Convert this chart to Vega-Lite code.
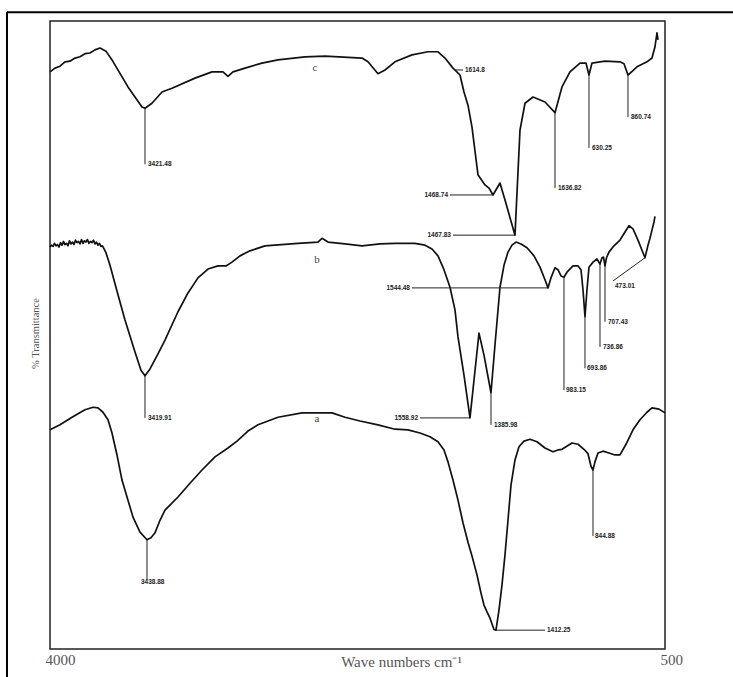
{
  "$schema": "https://vega.github.io/schema/vega-lite/v6.json",
  "autosize": {"type": "none"},
  "width": 615,
  "height": 628,
  "padding": {"left": 50, "top": 21, "right": 68, "bottom": 28},
  "background": "white",
  "config": {"view": {"stroke": "#222", "strokeWidth": 1.5}},
  "datasets": {
    "spectra": [
      {"s":"c","x":4000.0,"y":91.9},{"s":"c","x":3971.5,"y":92.5},{"s":"c","x":3943.1,"y":92.8},{"s":"c","x":3914.6,"y":93.5},{"s":"c","x":3886.2,"y":93.6},{"s":"c","x":3857.8,"y":94.1},{"s":"c","x":3829.3,"y":94.3},{"s":"c","x":3800.9,"y":94.8},{"s":"c","x":3772.4,"y":94.9},{"s":"c","x":3744.0,"y":95.4},{"s":"c","x":3715.5,"y":95.7},{"s":"c","x":3681.4,"y":95.2},{"s":"c","x":3647.2,"y":93.8},{"s":"c","x":3556.2,"y":89.5},{"s":"c","x":3476.5,"y":86.3},{"s":"c","x":3459.4,"y":86.1},{"s":"c","x":3419.6,"y":86.9},{"s":"c","x":3362.7,"y":88.7},{"s":"c","x":3305.7,"y":89.3},{"s":"c","x":3174.9,"y":90.9},{"s":"c","x":3078.1,"y":91.9},{"s":"c","x":3015.5,"y":91.9},{"s":"c","x":2987.1,"y":91.2},{"s":"c","x":2958.6,"y":91.9},{"s":"c","x":2890.3,"y":92.5},{"s":"c","x":2793.6,"y":93.3},{"s":"c","x":2702.5,"y":93.8},{"s":"c","x":2548.8,"y":94.3},{"s":"c","x":2435.0,"y":94.4},{"s":"c","x":2224.5,"y":94.1},{"s":"c","x":2190.3,"y":93.5},{"s":"c","x":2133.4,"y":91.6},{"s":"c","x":2093.6,"y":92.2},{"s":"c","x":2036.7,"y":93.5},{"s":"c","x":1939.9,"y":94.6},{"s":"c","x":1848.9,"y":95.1},{"s":"c","x":1791.9,"y":95.1},{"s":"c","x":1752.1,"y":94.1},{"s":"c","x":1706.6,"y":92.5},{"s":"c","x":1666.7,"y":91.4},{"s":"c","x":1644.0,"y":88.7},{"s":"c","x":1621.2,"y":86.6},{"s":"c","x":1598.4,"y":83.1},{"s":"c","x":1564.3,"y":75.5},{"s":"c","x":1524.5,"y":73.9},{"s":"c","x":1501.7,"y":73.4},{"s":"c","x":1478.9,"y":72.3},{"s":"c","x":1439.1,"y":74.2},{"s":"c","x":1410.6,"y":71.5},{"s":"c","x":1353.7,"y":65.9},{"s":"c","x":1325.3,"y":82.6},{"s":"c","x":1296.8,"y":86.9},{"s":"c","x":1251.3,"y":87.9},{"s":"c","x":1183.0,"y":87.1},{"s":"c","x":1126.1,"y":85.4},{"s":"c","x":1086.3,"y":89.5},{"s":"c","x":1040.7,"y":91.9},{"s":"c","x":983.8,"y":93.3},{"s":"c","x":949.7,"y":93.3},{"s":"c","x":932.6,"y":91.4},{"s":"c","x":915.5,"y":93.3},{"s":"c","x":841.5,"y":93.6},{"s":"c","x":756.2,"y":93.5},{"s":"c","x":733.4,"y":93.2},{"s":"c","x":710.6,"y":91.4},{"s":"c","x":659.4,"y":92.7},{"s":"c","x":602.5,"y":93.5},{"s":"c","x":574.1,"y":94.1},{"s":"c","x":557.0,"y":95.9},{"s":"c","x":545.6,"y":98.1},{"s":"c","x":539.9,"y":97.0},
      {"s":"b","x":4000.0,"y":64.0},{"s":"b","x":3991.5,"y":64.3},{"s":"b","x":3982.9,"y":64.1},{"s":"b","x":3974.4,"y":64.6},{"s":"b","x":3965.9,"y":64.2},{"s":"b","x":3957.4,"y":64.4},{"s":"b","x":3948.8,"y":64.0},{"s":"b","x":3940.3,"y":64.7},{"s":"b","x":3931.8,"y":64.3},{"s":"b","x":3923.2,"y":64.9},{"s":"b","x":3914.7,"y":64.4},{"s":"b","x":3906.2,"y":64.6},{"s":"b","x":3897.6,"y":64.2},{"s":"b","x":3889.1,"y":65.0},{"s":"b","x":3880.6,"y":64.5},{"s":"b","x":3872.0,"y":64.8},{"s":"b","x":3863.5,"y":64.4},{"s":"b","x":3855.0,"y":65.1},{"s":"b","x":3846.4,"y":64.7},{"s":"b","x":3837.9,"y":64.9},{"s":"b","x":3829.4,"y":64.5},{"s":"b","x":3820.8,"y":65.2},{"s":"b","x":3812.3,"y":64.6},{"s":"b","x":3803.8,"y":65.0},{"s":"b","x":3795.2,"y":64.8},{"s":"b","x":3786.7,"y":65.2},{"s":"b","x":3778.2,"y":64.6},{"s":"b","x":3769.6,"y":64.9},{"s":"b","x":3761.1,"y":64.7},{"s":"b","x":3752.6,"y":65.1},{"s":"b","x":3744.0,"y":64.5},{"s":"b","x":3735.5,"y":64.8},{"s":"b","x":3727.0,"y":64.3},{"s":"b","x":3718.4,"y":64.6},{"s":"b","x":3709.9,"y":64.1},{"s":"b","x":3701.4,"y":64.2},{"s":"b","x":3681.4,"y":63.1},{"s":"b","x":3658.6,"y":61.1},{"s":"b","x":3613.1,"y":56.4},{"s":"b","x":3573.2,"y":52.4},{"s":"b","x":3516.3,"y":47.3},{"s":"b","x":3482.2,"y":44.4},{"s":"b","x":3459.4,"y":43.5},{"s":"b","x":3430.9,"y":44.6},{"s":"b","x":3385.4,"y":47.0},{"s":"b","x":3345.6,"y":49.2},{"s":"b","x":3271.6,"y":53.7},{"s":"b","x":3214.7,"y":56.7},{"s":"b","x":3157.8,"y":59.1},{"s":"b","x":3100.9,"y":60.5},{"s":"b","x":3044.0,"y":61.0},{"s":"b","x":2998.4,"y":61.0},{"s":"b","x":2964.3,"y":61.6},{"s":"b","x":2918.8,"y":62.6},{"s":"b","x":2861.8,"y":63.4},{"s":"b","x":2776.5,"y":64.2},{"s":"b","x":2588.7,"y":64.6},{"s":"b","x":2474.9,"y":64.8},{"s":"b","x":2452.1,"y":65.4},{"s":"b","x":2418.0,"y":64.8},{"s":"b","x":2321.2,"y":64.5},{"s":"b","x":2224.5,"y":64.2},{"s":"b","x":2122.0,"y":64.5},{"s":"b","x":2036.7,"y":64.6},{"s":"b","x":1922.8,"y":64.6},{"s":"b","x":1865.9,"y":64.3},{"s":"b","x":1826.1,"y":63.7},{"s":"b","x":1791.9,"y":62.6},{"s":"b","x":1757.8,"y":60.4},{"s":"b","x":1723.6,"y":57.6},{"s":"b","x":1695.2,"y":54.0},{"s":"b","x":1678.1,"y":49.7},{"s":"b","x":1644.0,"y":43.6},{"s":"b","x":1609.8,"y":36.8},{"s":"b","x":1587.1,"y":42.8},{"s":"b","x":1558.6,"y":50.3},{"s":"b","x":1530.2,"y":46.8},{"s":"b","x":1490.3,"y":40.8},{"s":"b","x":1467.6,"y":48.4},{"s":"b","x":1439.1,"y":57.6},{"s":"b","x":1416.3,"y":61.1},{"s":"b","x":1393.6,"y":63.2},{"s":"b","x":1370.8,"y":64.3},{"s":"b","x":1348.0,"y":64.8},{"s":"b","x":1319.6,"y":64.5},{"s":"b","x":1285.4,"y":63.9},{"s":"b","x":1245.6,"y":62.6},{"s":"b","x":1211.5,"y":60.8},{"s":"b","x":1183.0,"y":58.8},{"s":"b","x":1165.9,"y":57.5},{"s":"b","x":1148.9,"y":59.1},{"s":"b","x":1126.1,"y":60.7},{"s":"b","x":1109.0,"y":60.4},{"s":"b","x":1091.9,"y":59.4},{"s":"b","x":1074.9,"y":59.2},{"s":"b","x":1057.8,"y":60.0},{"s":"b","x":1023.7,"y":61.0},{"s":"b","x":995.2,"y":61.0},{"s":"b","x":978.1,"y":60.4},{"s":"b","x":966.7,"y":57.2},{"s":"b","x":955.4,"y":52.9},{"s":"b","x":944.0,"y":57.2},{"s":"b","x":932.6,"y":60.8},{"s":"b","x":909.8,"y":61.6},{"s":"b","x":887.1,"y":62.1},{"s":"b","x":870.0,"y":61.3},{"s":"b","x":858.6,"y":62.3},{"s":"b","x":850.1,"y":62.4},{"s":"b","x":841.5,"y":61.0},{"s":"b","x":833.0,"y":62.3},{"s":"b","x":818.8,"y":63.2},{"s":"b","x":790.3,"y":64.2},{"s":"b","x":756.2,"y":65.1},{"s":"b","x":727.7,"y":66.4},{"s":"b","x":705.0,"y":67.4},{"s":"b","x":682.2,"y":66.9},{"s":"b","x":653.7,"y":65.1},{"s":"b","x":631.0,"y":63.5},{"s":"b","x":613.9,"y":62.3},{"s":"b","x":596.8,"y":64.3},{"s":"b","x":585.4,"y":65.4},{"s":"b","x":574.1,"y":66.7},{"s":"b","x":562.7,"y":68.0},{"s":"b","x":557.0,"y":68.9},
      {"s":"a","x":4000.0,"y":34.9},{"s":"a","x":3943.1,"y":35.7},{"s":"a","x":3874.8,"y":36.9},{"s":"a","x":3800.9,"y":38.1},{"s":"a","x":3755.3,"y":38.5},{"s":"a","x":3726.9,"y":38.4},{"s":"a","x":3698.4,"y":37.7},{"s":"a","x":3670.0,"y":36.5},{"s":"a","x":3647.2,"y":34.4},{"s":"a","x":3618.8,"y":30.9},{"s":"a","x":3590.3,"y":26.9},{"s":"a","x":3556.2,"y":23.7},{"s":"a","x":3527.7,"y":21.0},{"s":"a","x":3487.9,"y":18.6},{"s":"a","x":3448.0,"y":17.4},{"s":"a","x":3425.3,"y":17.7},{"s":"a","x":3402.5,"y":18.5},{"s":"a","x":3374.0,"y":20.5},{"s":"a","x":3345.6,"y":22.1},{"s":"a","x":3271.6,"y":24.2},{"s":"a","x":3203.3,"y":26.4},{"s":"a","x":3135.0,"y":28.5},{"s":"a","x":3061.0,"y":30.6},{"s":"a","x":2987.1,"y":32.0},{"s":"a","x":2935.8,"y":33.1},{"s":"a","x":2873.2,"y":34.7},{"s":"a","x":2816.3,"y":35.7},{"s":"a","x":2702.5,"y":36.9},{"s":"a","x":2565.9,"y":37.6},{"s":"a","x":2395.2,"y":37.6},{"s":"a","x":2321.2,"y":36.9},{"s":"a","x":2235.8,"y":36.3},{"s":"a","x":2133.4,"y":35.7},{"s":"a","x":2036.7,"y":35.0},{"s":"a","x":1962.7,"y":34.9},{"s":"a","x":1894.4,"y":34.4},{"s":"a","x":1837.5,"y":33.8},{"s":"a","x":1791.9,"y":33.0},{"s":"a","x":1757.8,"y":31.7},{"s":"a","x":1735.0,"y":29.8},{"s":"a","x":1706.6,"y":26.9},{"s":"a","x":1678.1,"y":23.7},{"s":"a","x":1649.7,"y":20.1},{"s":"a","x":1621.2,"y":17.0},{"s":"a","x":1598.4,"y":14.8},{"s":"a","x":1570.0,"y":11.8},{"s":"a","x":1547.2,"y":8.9},{"s":"a","x":1530.2,"y":7.0},{"s":"a","x":1513.1,"y":5.9},{"s":"a","x":1496.0,"y":4.9},{"s":"a","x":1473.2,"y":3.1},{"s":"a","x":1461.9,"y":3.0},{"s":"a","x":1444.8,"y":6.2},{"s":"a","x":1427.7,"y":10.2},{"s":"a","x":1410.6,"y":15.0},{"s":"a","x":1393.6,"y":20.5},{"s":"a","x":1376.5,"y":26.1},{"s":"a","x":1353.7,"y":30.1},{"s":"a","x":1331.0,"y":32.2},{"s":"a","x":1302.5,"y":33.1},{"s":"a","x":1268.4,"y":33.4},{"s":"a","x":1228.5,"y":33.0},{"s":"a","x":1183.0,"y":32.0},{"s":"a","x":1137.5,"y":31.4},{"s":"a","x":1109.0,"y":31.7},{"s":"a","x":1086.3,"y":31.8},{"s":"a","x":1029.3,"y":32.8},{"s":"a","x":995.2,"y":32.6},{"s":"a","x":961.1,"y":31.8},{"s":"a","x":938.3,"y":31.1},{"s":"a","x":921.2,"y":29.1},{"s":"a","x":909.8,"y":28.5},{"s":"a","x":898.5,"y":29.8},{"s":"a","x":881.4,"y":31.2},{"s":"a","x":852.9,"y":31.5},{"s":"a","x":818.8,"y":31.2},{"s":"a","x":784.6,"y":30.9},{"s":"a","x":756.2,"y":30.9},{"s":"a","x":722.0,"y":32.6},{"s":"a","x":682.2,"y":34.9},{"s":"a","x":642.4,"y":36.5},{"s":"a","x":602.5,"y":37.7},{"s":"a","x":574.1,"y":38.4},{"s":"a","x":534.2,"y":38.2},{"s":"a","x":500.1,"y":37.6}
    ],
    "leaders": [
      {"x":3459.4,"x2":3459.4,"y":86.1,"y2":77.2},
      {"x":1695.2,"x2":1649.7,"y":92.2,"y2":92.2},
      {"x":1723.6,"x2":1478.9,"y":72.3,"y2":72.3},
      {"x":1706.6,"x2":1353.7,"y":65.9,"y2":65.9},
      {"x":1126.1,"x2":1126.1,"y":85.4,"y2":73.4},
      {"x":932.6,"x2":932.6,"y":91.4,"y2":79.8},
      {"x":710.6,"x2":710.6,"y":91.4,"y2":84.7},
      {"x":3459.4,"x2":3459.4,"y":43.5,"y2":36.8},
      {"x":1939.9,"x2":1165.9,"y":57.5,"y2":57.5},
      {"x":1894.4,"x2":1609.8,"y":36.8,"y2":36.8},
      {"x":1490.3,"x2":1490.3,"y":40.8,"y2":35.7},
      {"x":1074.9,"x2":1074.9,"y":59.2,"y2":41.2},
      {"x":955.4,"x2":955.4,"y":52.9,"y2":44.7},
      {"x":870.0,"x2":870.0,"y":61.5,"y2":48.1},
      {"x":841.5,"x2":841.5,"y":61.1,"y2":52.1},
      {"x":613.9,"x2":796.0,"y":62.3,"y2":58.6},
      {"x":3448.0,"x2":3448.0,"y":17.4,"y2":11.0},
      {"x":1461.9,"x2":1183.0,"y":3.0,"y2":3.0},
      {"x":909.8,"x2":909.8,"y":28.5,"y2":18.0}
    ],
    "peaks": [
      {"text":"3421.48","x":3448.0,"y":77.2,"side":"l"},
      {"text":"1614.8","x":1644.0,"y":92.2,"side":"l"},
      {"text":"1468.74","x":1729.3,"y":72.3,"side":"r"},
      {"text":"1467.83","x":1712.3,"y":65.9,"side":"r"},
      {"text":"1636.82","x":1114.8,"y":73.4,"side":"l"},
      {"text":"630.25","x":921.2,"y":79.8,"side":"l"},
      {"text":"860.74","x":699.3,"y":84.7,"side":"l"},
      {"text":"3419.91","x":3448.0,"y":36.8,"side":"l"},
      {"text":"1544.48","x":1945.6,"y":57.5,"side":"r"},
      {"text":"1558.92","x":1900.0,"y":36.8,"side":"r"},
      {"text":"1385.98","x":1478.9,"y":35.7,"side":"l"},
      {"text":"983.15","x":1069.2,"y":41.2,"side":"l"},
      {"text":"693.86","x":949.7,"y":44.7,"side":"l"},
      {"text":"736.86","x":858.6,"y":48.1,"side":"l"},
      {"text":"707.43","x":830.2,"y":52.1,"side":"l"},
      {"text":"473.01","x":790.3,"y":57.8,"side":"l"},
      {"text":"3438.88","x":3487.9,"y":10.6,"side":"l"},
      {"text":"1412.25","x":1177.3,"y":3.0,"side":"l"},
      {"text":"844.88","x":904.1,"y":18.0,"side":"l"}
    ],
    "names": [
      {"text":"c","x":2491.9,"y":92.5},
      {"text":"b","x":2480.6,"y":61.9},
      {"text":"a","x":2480.6,"y":36.6}
    ],
    "frame": [
      {"x":4244.8,"x2":4244.8,"y":101.4,"y2":-8},
      {"x":4244.8,"x2":60,"y":101.4,"y2":101.4}
    ]
  },
  "encoding": {
    "x": {
      "field": "x", "type": "quantitative",
      "scale": {"domain": [500, 4000], "reverse": true},
      "axis": {
        "values": [4000, 500], "format": "d", "ticks": false, "domain": false, "grid": false,
        "labelFont": "Liberation Serif", "labelFontSize": 15, "labelColor": "#555",
        "labelAlign": "left", "labelOffset": -5, "labelPadding": 3, "labelFlush": false,
        "title": "Wave numbers cm⁻¹", "titleFont": "Liberation Serif", "titleFontSize": 15,
        "titleFontWeight": "normal", "titleColor": "#555", "titleX": 351, "titleY": 17,
        "titleAlign": "center", "titleBaseline": "alphabetic"
      }
    },
    "y": {
      "field": "y", "type": "quantitative",
      "scale": {"domain": [0, 100]},
      "axis": {
        "ticks": false, "labels": false, "domain": false, "grid": false,
        "title": "% Transmittance", "titleFont": "Liberation Sans Narrow", "titleFontSize": 10.5,
        "titleFontWeight": "normal", "titleColor": "#555", "titleAngle": 270,
        "titleX": -15, "titleY": 312, "titleAlign": "center", "titleBaseline": "middle"
      }
    }
  },
  "layer": [
    {
      "data": {"name": "frame"},
      "mark": {"type": "rule", "stroke": "black", "strokeWidth": 2},
      "encoding": {"x2": {"field": "x2"}, "y2": {"field": "y2"}}
    },
    {
      "data": {"name": "spectra"},
      "mark": {"type": "line", "stroke": "#111", "strokeWidth": 1.7, "strokeJoin": "round"},
      "encoding": {"detail": {"field": "s"}}
    },
    {
      "data": {"name": "leaders"},
      "mark": {"type": "rule", "stroke": "#222", "strokeWidth": 1},
      "encoding": {"x2": {"field": "x2"}, "y2": {"field": "y2"}}
    },
    {
      "data": {"name": "peaks"},
      "transform": [{"filter": "datum.side === 'l'"}],
      "mark": {"type": "text", "align": "left", "baseline": "middle", "dx": 1, "font": "Liberation Sans", "fontSize": 6.5, "fontWeight": "bold", "fill": "#222"},
      "encoding": {"text": {"field": "text"}}
    },
    {
      "data": {"name": "peaks"},
      "transform": [{"filter": "datum.side === 'r'"}],
      "mark": {"type": "text", "align": "right", "baseline": "middle", "dx": -1, "font": "Liberation Sans", "fontSize": 6.5, "fontWeight": "bold", "fill": "#222"},
      "encoding": {"text": {"field": "text"}}
    },
    {
      "data": {"name": "names"},
      "mark": {"type": "text", "align": "center", "baseline": "middle", "font": "Liberation Serif", "fontSize": 11, "fill": "#444"},
      "encoding": {"text": {"field": "text"}}
    }
  ]
}
